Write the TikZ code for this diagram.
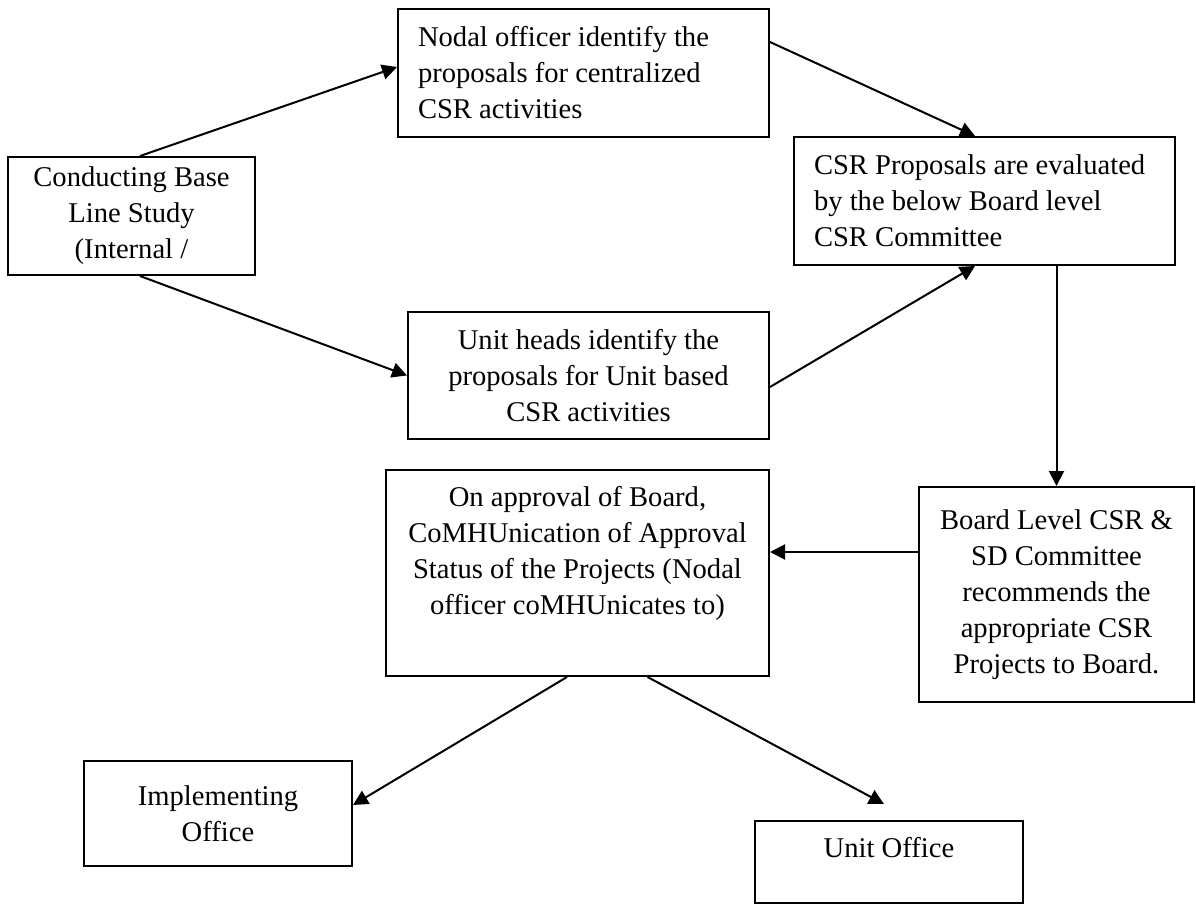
\documentclass[tikz,border=0pt]{standalone}
\usepackage{fontspec}
\setmainfont{Liberation Serif}
\usetikzlibrary{arrows.meta}

\begin{document}
\begin{tikzpicture}[x=0.5pt,y=-0.5pt,line width=1pt,>={Triangle[length=7.5pt,width=7.5pt]}]
        \useasboundingbox (0,0) rectangle (1196,904);

        \begin{scope}[every node/.style={draw, align=center, font=\fontsize{14.3}{18}\selectfont}]
          \node[minimum width=123.5pt, minimum height=59pt] (base) at (131.5,216) {Conducting Base\\ Line Study\\ (Internal /};
          \node[text width=165.5pt, inner xsep=10pt, align=left, minimum height=64pt] (nodal) at (583.5,73) {\spaceskip=0pt\relax Nodal officer identify the\\ proposals for centralized\\ CSR activities};
          \node[text width=170.5pt, inner xsep=10pt, align=left, minimum height=64pt] (evaluate) at (984.5,201) {\spaceskip=0pt\relax CSR Proposals are evaluated\\ by the below Board level\\ CSR Committee};
          \node[minimum width=180.5pt, minimum height=63.5pt] (unithead) at (588.5,375.5) {Unit heads identify the\\ proposals for Unit based\\ CSR activities};
          \node[minimum width=137.5pt, minimum height=107.5pt] (board) at (1056.5,594.5) {Board Level CSR \&\\ SD Committee\\ recommends the\\ appropriate CSR\\ Projects to Board.};
          \node[minimum width=191.5pt, inner ysep=0pt, text height=72pt, text depth=31pt] (approve) at (577.5,573) {On approval of Board,\\ CoMHUnication of Approval\\ Status of the Projects (Nodal\\ officer coMHUnicates to)};
          \node[minimum width=134pt, minimum height=52.5pt] (implement) at (218,813.5) {Implementing\\ Office};
          \node[minimum width=134pt, inner ysep=0pt, text height=18pt, text depth=23pt] (unitoff) at (889,862) {Unit Office};
        \end{scope}

        \coordinate (boardin) at ([yshift=10.5pt]approve.east);

        \begin{scope}[every edge/.style={draw, ->}]
          \path ([xshift=4.25pt]base.north) edge ([yshift=3pt]nodal.west);
          \path ([xshift=4.25pt]base.south) edge (unithead.west);
          \path ([yshift=15.5pt]nodal.east) edge ([xshift=-4.75pt]evaluate.north);
          \path ([yshift=-5.75pt]unithead.east) edge ([xshift=-4.75pt]evaluate.south);
          \path (board.north |- evaluate.south) edge (board.north);
          \path (board.west |- boardin) edge (boardin);
          \path ([xshift=-5.25pt]approve.south) edge ([yshift=4.25pt]implement.east);
          \path ([xshift=35pt]approve.south) edge ([shift={(-2.5pt,8pt)}]unitoff.north);
        \end{scope}

      \end{tikzpicture}
\end{document}
